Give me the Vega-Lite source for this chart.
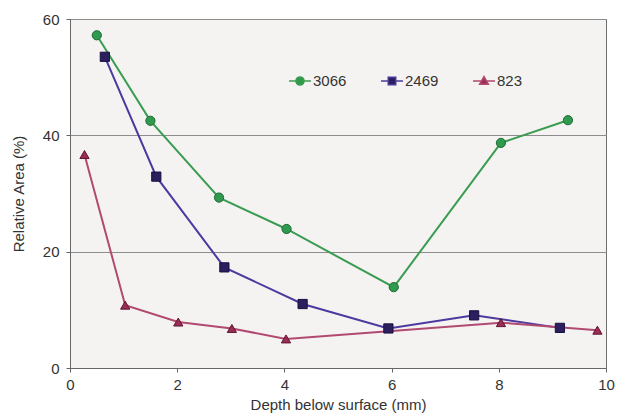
{
  "$schema": "https://vega.github.io/schema/vega-lite/v6.json",
  "width": 536,
  "height": 349,
  "autosize": {"type": "none"},
  "padding": {"left": 70, "top": 19, "right": 11, "bottom": 46},
  "background": "#ffffff",
  "config": {
    "font": "Liberation Sans",
    "view": {"fill": "#f5f3f1", "stroke": "#6e6e6e", "strokeWidth": 1},
    "axis": {
      "domainColor": "#666666",
      "tickColor": "#666666",
      "tickSize": 4,
      "labelFontSize": 15,
      "labelColor": "#333333",
      "titleFontSize": 15,
      "titleFontWeight": "normal",
      "titleColor": "#333333",
      "gridColor": "#8c8c8c",
      "gridWidth": 1
    },
    "legend": {
      "orient": "none",
      "legendX": 218,
      "legendY": 50,
      "direction": "horizontal",
      "columnPadding": 31,
      "padding": 0,
      "symbolSize": 484,
      "symbolStrokeWidth": 1.5,
      "labelFontSize": 15,
      "labelColor": "#333333",
      "labelOffset": 1,
      "title": null
    }
  },
  "data": {
    "values": [
      {"series": "3066", "depth": 0.5, "area": 57.2},
      {"series": "3066", "depth": 1.5, "area": 42.5},
      {"series": "3066", "depth": 2.78, "area": 29.3},
      {"series": "3066", "depth": 4.04, "area": 23.9},
      {"series": "3066", "depth": 6.04, "area": 13.9},
      {"series": "3066", "depth": 8.04, "area": 38.7},
      {"series": "3066", "depth": 9.29, "area": 42.6},
      {"series": "2469", "depth": 0.65, "area": 53.5},
      {"series": "2469", "depth": 1.61, "area": 32.9},
      {"series": "2469", "depth": 2.88, "area": 17.3},
      {"series": "2469", "depth": 4.34, "area": 11.0},
      {"series": "2469", "depth": 5.94, "area": 6.8},
      {"series": "2469", "depth": 7.54, "area": 9.05},
      {"series": "2469", "depth": 9.14, "area": 6.9},
      {"series": "823", "depth": 0.27, "area": 36.7},
      {"series": "823", "depth": 1.03, "area": 10.8},
      {"series": "823", "depth": 2.02, "area": 7.9},
      {"series": "823", "depth": 3.02, "area": 6.8},
      {"series": "823", "depth": 4.03, "area": 5.0},
      {"series": "823", "depth": 8.04, "area": 7.8},
      {"series": "823", "depth": 9.84, "area": 6.5}
    ]
  },
  "encoding": {
    "x": {
      "field": "depth",
      "type": "quantitative",
      "scale": {"domain": [0, 10], "nice": false, "zero": false},
      "axis": {
        "values": [0, 2, 4, 6, 8, 10],
        "grid": false,
        "title": "Depth below surface (mm)",
        "labelPadding": 5,
        "titlePadding": 5,
        "labelFlush": false
      }
    },
    "y": {
      "field": "area",
      "type": "quantitative",
      "scale": {"domain": [0, 60], "nice": false},
      "axis": {
        "values": [0, 20, 40, 60],
        "grid": true,
        "title": "Relative Area (%)",
        "labelPadding": 7,
        "titlePadding": 16
      }
    }
  },
  "layer": [
    {
      "mark": {"type": "line", "strokeWidth": 2},
      "encoding": {
        "color": {
          "field": "series",
          "type": "nominal",
          "scale": {"domain": ["3066", "2469", "823"], "range": ["#3a9c52", "#4a3aa0", "#b04a70"]},
          "legend": null
        },
        "detail": {"field": "series"}
      }
    },
    {
      "mark": {"type": "point", "filled": true, "size": 85, "strokeWidth": 1, "opacity": 1},
      "encoding": {
        "fill": {
          "field": "series",
          "type": "nominal",
          "scale": {"domain": ["3066", "2469", "823"], "range": ["#2f9a4e", "#2d1e5e", "#9b2c55"]},
          "legend": null
        },
        "stroke": {
          "field": "series",
          "type": "nominal",
          "scale": {"domain": ["3066", "2469", "823"], "range": ["#1e6b35", "#1a1040", "#5e1530"]},
          "legend": null
        },
        "shape": {
          "field": "series",
          "type": "nominal",
          "scale": {"domain": ["3066", "2469", "823"], "range": ["circle", "square", "triangle-up"]},
          "legend": null
        }
      }
    },
    {
      "transform": [{"filter": "false"}],
      "mark": {"type": "point", "filled": true, "opacity": 1},
      "encoding": {
        "fill": {
          "field": "series",
          "type": "nominal",
          "scale": {"domain": ["3066", "2469", "823"], "range": ["#2f9a4e", "#2d1e5e", "#9b2c55"]},
          "legend": {}
        },
        "stroke": {
          "field": "series",
          "type": "nominal",
          "scale": {"domain": ["3066", "2469", "823"], "range": ["#3a9c52", "#4a3aa0", "#b04a70"]},
          "legend": {}
        },
        "shape": {
          "field": "series",
          "type": "nominal",
          "scale": {
            "domain": ["3066", "2469", "823"],
            "range": [
              "M-1,0L-0.37,0M0.37,0L1,0M0.37,0A0.37,0.37,0,1,1,-0.37,0A0.37,0.37,0,1,1,0.37,0Z",
              "M-1,0L-0.34,0M0.34,0L1,0M-0.34,-0.34L0.34,-0.34L0.34,0.34L-0.34,0.34Z",
              "M-1,0L-0.25,0M0.25,0L1,0M0,-0.4L0.4,0.3L-0.4,0.3Z"
            ]
          },
          "legend": {}
        }
      }
    }
  ],
  "resolve": {"scale": {"fill": "independent", "stroke": "independent", "shape": "independent"}}
}
